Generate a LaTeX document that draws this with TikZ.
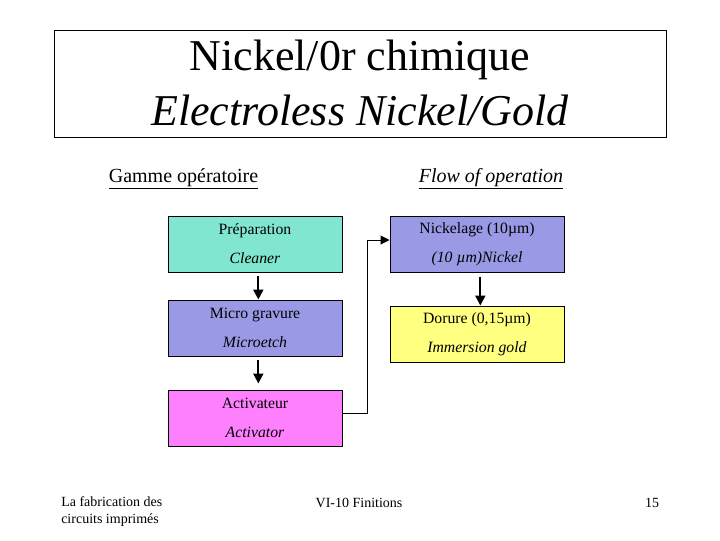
\documentclass[tikz,border=0pt]{standalone}
\usepackage{fontspec}
\setmainfont{Liberation Serif}
\usetikzlibrary{arrows.meta}
\definecolor{cteal}{RGB}{128,230,208}
\definecolor{cviolet}{RGB}{153,153,230}
\definecolor{cmag}{RGB}{255,128,255}
\definecolor{cyel}{RGB}{255,255,128}
\begin{document}
\begin{tikzpicture}[x=0.75pt,y=-0.75pt,
  stepbox/.style={draw=black,line width=0.75pt,minimum width=130.5pt,minimum height=42pt,
    inner sep=0pt,align=center,font=\fontsize{11.8}{21.75}\selectfont},
  arr/.style={line width=1.5pt,-{Triangle[length=7.5pt,width=7.5pt]}},
  conn/.style={line width=0.75pt,-{Triangle[length=6.75pt,width=6.75pt]}},
  foot/.style={font=\fontsize{10.5}{13}\selectfont}]
\useasboundingbox (0,0) rectangle (720,540);
\node[draw=black,line width=0.6pt,minimum width=459pt,minimum height=80.25pt,inner sep=0pt] (tbox) at (360,83.5) {};
\node[font=\fontsize{33}{34}\selectfont] (t1) at (360,60) {Nickel/0r chimique};
\node[font=\fontsize{33}{34}\selectfont\itshape] (t2) at (360,110) {Electroless Nickel/Gold};
\node[font=\fontsize{15}{17}\selectfont] (hl) at (183.5,179) {\underline{Gamme opératoire}};
\node[font=\fontsize{15}{17}\selectfont\itshape] (hr) at (491,179) {\underline{Flow of operation}};
\node[stepbox,fill=cteal] (prep) at (255,244) {Préparation\\\textit{Cleaner}};
\node[stepbox,fill=cviolet] (micro) at (255,328) {Micro gravure\\\textit{Microetch}};
\node[stepbox,fill=cmag] (act) at (255,418) {Activateur\\\textit{Activator}};
\node[stepbox,fill=cviolet] (nick) at (477,244) {Nickelage (10µm)\\\textit{(10 µm)Nickel}};
\node[stepbox,fill=cyel] (dor) at (477,334) {Dorure (0,15µm)\\\textit{Immersion gold}};
\coordinate (c1) at (367,413);
\coordinate (c2) at (367,240);
\draw[arr] ([xshift=2.5pt,yshift=-2.25pt]prep.south) -- ([xshift=2.5pt]micro.north);
\draw[arr] ([xshift=2.5pt,yshift=-2.25pt]micro.south) -- ([xshift=2.5pt,yshift=4.5pt]act.north);
\draw[arr] ([xshift=2.5pt,yshift=-3pt]nick.south) -- ([xshift=2.5pt]dor.north);
\draw[conn] (act.east |- c1) -- (c1) -- (c2) -- (nick.west |- c2);
\node[foot,anchor=north west,align=left,inner sep=0pt] (f1) at (61,496) {La fabrication des\\circuits imprimés};
\node[foot] (f2) at (359,503) {VI-10 Finitions};
\node[foot] (f3) at (652,503) {15};
\end{tikzpicture}
\end{document}
